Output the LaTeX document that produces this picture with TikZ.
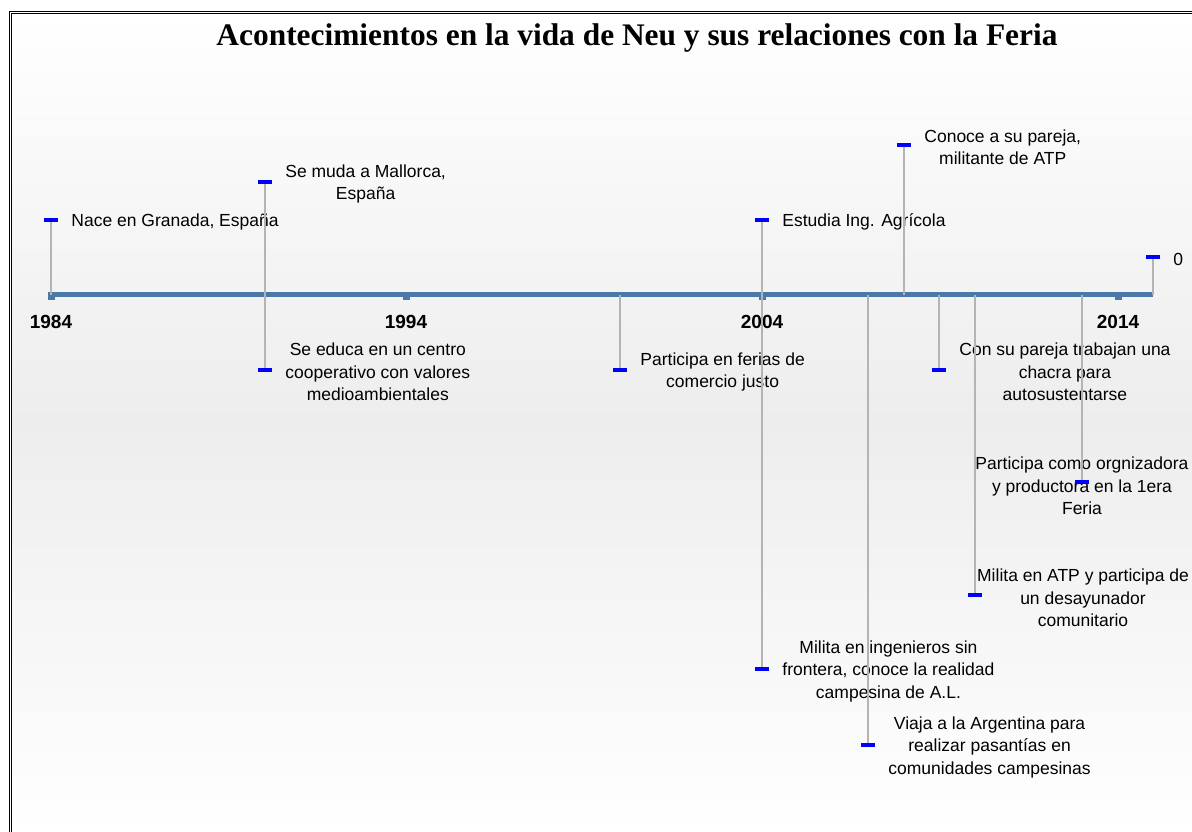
\documentclass[tikz,border=0pt]{standalone}
\usepackage{fontspec}
\setmainfont{Liberation Sans}
\newfontfamily\titlefont{Liberation Serif}
\usetikzlibrary{positioning}
\definecolor{axisblue}{HTML}{4A78A8}
\definecolor{stemgray}{HTML}{B4B4B4}
\definecolor{bggray}{HTML}{EDEDED}
\tikzset{
  evmark/.style={fill=blue, inner sep=0, minimum width=14pt, minimum height=4pt},
  stem/.style={stemgray, line width=2pt},
  evlabel/.style={align=center, inner sep=0, yshift=-2pt, font=\fontsize{17.5}{22.5}\selectfont},
  yearlabel/.style={inner sep=0, font=\bfseries\fontsize{19}{22}\selectfont}
}
\begin{document}
\begin{tikzpicture}[x=1pt, y=-1pt]
\useasboundingbox (0,0) rectangle (1192,832);
\shade[top color=white, bottom color=white, middle color=bggray] (11,13) rectangle (1192,832);
\draw[double, double distance=1.6pt, line width=0.9pt] (10.5,840) |- (1200,12.5);
\node[font=\titlefont\bfseries\fontsize{31.4}{36}\selectfont] (title) at (637,38) {Acontecimientos en la vida de Neu y sus relaciones con la Feria};
% eje
\coordinate (inicio) at (48,294.5);
\coordinate (fin) at (1153,294.5);
\draw[axisblue, line width=5.5pt] (inicio) -- (fin);
\foreach \x/\yr in {51/1984, 406/1994, 762/2004, 1118/2014} {
 \fill[axisblue] (\x-3.5,293) rectangle (\x+3.5,300);
 \node[yearlabel] (y\yr) at (\x,322) {\yr};
}
% acontecimientos
\foreach \n/\x/\y/\txt in {
 1/51/220/{Nace en Granada, España},
 2/265/182/{Se muda a Mallorca,\\España},
 3/265/370/{Se educa en un centro\\cooperativo con valores\\medioambientales},
 4/620/370/{Participa en ferias de\\comercio justo},
 5/762/220/{Estudia Ing. Agrícola},
 6/762/669/{Milita en ingenieros sin\\frontera, conoce la realidad\\campesina de A.L.},
 7/868/745/{Viaja a la Argentina para\\realizar pasantías en\\comunidades campesinas},
 8/904/145/{Conoce a su pareja,\\militante de ATP},
 9/939/370/{Con su pareja trabajan una\\chacra para\\autosustentarse},
 12/1153/257/{0}} {
 \coordinate (a\n) at (\x,294.5);
 \node[evmark] (m\n) at (\x,\y) {};
 \draw[stem] (a\n) -- (m\n);
 \node[evlabel, right=13pt of m\n] (t\n) {\txt};
}
\node[evlabel] (t10) at (1083,596) {Milita en ATP y participa de\\un desayunador\\comunitario};
\node[evlabel] (t11) at (1082,484) {Participa como orgnizadora\\y productora en la 1era\\Feria};
\foreach \n/\x/\y in {10/975/595, 11/1082/482} {
 \coordinate (a\n) at (\x,294.5);
 \node[evmark] (m\n) at (\x,\y) {};
 \draw[stem] (a\n) -- (m\n);
}
\end{tikzpicture}
\end{document}
